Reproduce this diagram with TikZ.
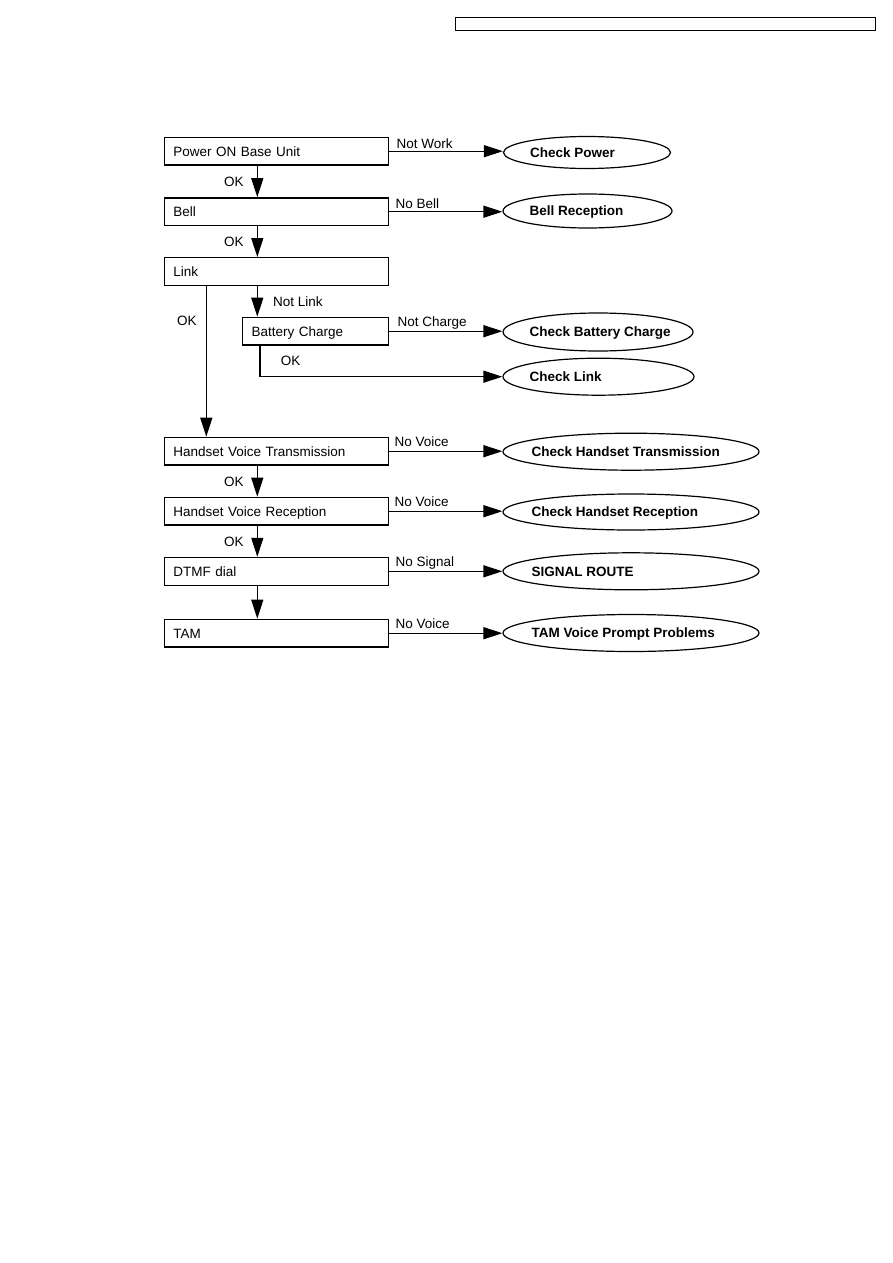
\documentclass[tikz,border=0pt]{standalone}
\usepackage{fontspec}
\setmainfont{Liberation Sans}
\usetikzlibrary{arrows.meta,shapes.geometric,calc}
\begin{document}
\begin{tikzpicture}[x=1pt,y=-1pt,
  every node/.style={font=\fontsize{13.5}{16}\selectfont},
  box/.style={draw, line width=1.3pt, rectangle, minimum height=27.7pt, inner xsep=9pt, inner ysep=0pt, align=left, text height=9.7pt, text depth=0pt},
  ell/.style={draw, ellipse, line width=1.2pt, inner sep=0pt},
  etext/.style={anchor=west, font=\fontsize{13.5}{16}\selectfont\bfseries, inner sep=0pt, text height=9.7pt, text depth=0pt},
  lbl/.style={anchor=base west, inner sep=0pt},
  arr/.style={line width=1.3pt, -{Triangle[length=19pt,width=12pt]}},
  ln/.style={line width=1.3pt}]
\useasboundingbox (0,0) rectangle (893,1263);
\node[draw, line width=1pt, minimum width=420.4pt, minimum height=13pt, inner sep=0pt] (hdr) at (665.5,23.8) {};
% boxes
\node[box, text width=206pt] (p) at (276.4,151.2) {Power ON Base Unit};
\node[box, text width=206pt] (b) at (276.4,211.7) {Bell};
\node[box, text width=206pt] (l) at (276.4,271.5) {Link};
\node[box, text width=127.6pt] (bc) at (315.5,331.2) {Battery Charge};
\node[box, text width=206pt] (ht) at (276.4,451.2) {Handset Voice Transmission};
\node[box, text width=206pt] (hr) at (276.4,511.2) {Handset Voice Reception};
\node[box, text width=206pt] (d) at (276.4,571.3) {DTMF dial};
\node[box, text width=206pt] (t) at (276.4,633.2) {TAM};
% ellipses
\node[ell, minimum width=167pt, minimum height=32pt] (e1) at (587,152.5) {};
\node[etext] at ([xshift=27pt]e1.west) {Check Power};
\node[ell, minimum width=169pt, minimum height=34pt] (e2) at (587.5,211) {};
\node[etext] at ([xshift=27pt]e2.west) {Bell Reception};
\node[ell, minimum width=190pt, minimum height=38pt] (e3) at (598,332) {};
\node[etext] at ([xshift=27pt]e3.west) {Check Battery Charge};
\node[ell, minimum width=191pt, minimum height=37pt] (e4) at (598.5,376.7) {};
\node[etext] at ([xshift=27pt]e4.west) {Check Link};
\node[ell, minimum width=256pt, minimum height=37pt] (e5) at (631,451.7) {};
\node[etext] at ([xshift=29pt]e5.west) {Check Handset Transmission};
\node[ell, minimum width=256pt, minimum height=36pt] (e6) at (631,512) {};
\node[etext] at ([xshift=29pt]e6.west) {Check Handset Reception};
\node[ell, minimum width=256pt, minimum height=37pt] (e7) at (631,571.3) {};
\node[etext] at ([xshift=29pt]e7.west) {SIGNAL ROUTE};
\node[ell, minimum width=256pt, minimum height=37pt] (e8) at (631,633) {};
\node[etext] at ([xshift=29pt]e8.west) {TAM Voice Prompt Problems};
% vertical guide
\coordinate (vx) at (257.3,0);
\coordinate (lx) at (206.3,0);
\coordinate (bx) at (260,0);
% horizontal arrows
\draw[arr] (p.east) -- (p.east -| e1.west);
\draw[arr] (b.east) -- (b.east -| e2.west);
\draw[arr] (bc.east) -- (bc.east -| e3.west);
\draw[arr] (ht.east) -- (ht.east -| e5.west);
\draw[arr] (hr.east) -- (hr.east -| e6.west);
\draw[arr] (d.east) -- (d.east -| e7.west);
\draw[arr] (t.east) -- (t.east -| e8.west);
\draw[arr] (bc.south -| bx) |- (e4.west);
% vertical arrows
\draw[arr] (p.south -| vx) -- (b.north -| vx);
\draw[arr] (b.south -| vx) -- (l.north -| vx);
\draw[arr] (l.south -| vx) -- (bc.north -| vx);
\draw[arr] (l.south -| lx) -- (ht.north -| lx);
\draw[arr] (ht.south -| vx) -- (hr.north -| vx);
\draw[arr] (hr.south -| vx) -- (d.north -| vx);
\draw[arr] (d.south -| vx) -- (t.north -| vx);
% labels
\node[lbl] at (396.5,148.8) {Not Work};
\node[lbl] at (395.5,208.3) {No Bell};
\node[lbl] at (397.5,326.6) {Not Charge};
\node[lbl] at (394.5,446.3) {No Voice};
\node[lbl] at (394.5,506.6) {No Voice};
\node[lbl] at (395.5,566) {No Signal};
\node[lbl] at (395.5,628) {No Voice};
\node[lbl] at (224,186.7) {OK};
\node[lbl] at (224,246.7) {OK};
\node[lbl] at (273,306.7) {Not Link};
\node[lbl] at (177,325.7) {OK};
\node[lbl] at (280.7,365.7) {OK};
\node[lbl] at (224,486.3) {OK};
\node[lbl] at (224,546.5) {OK};
\end{tikzpicture}
\end{document}
